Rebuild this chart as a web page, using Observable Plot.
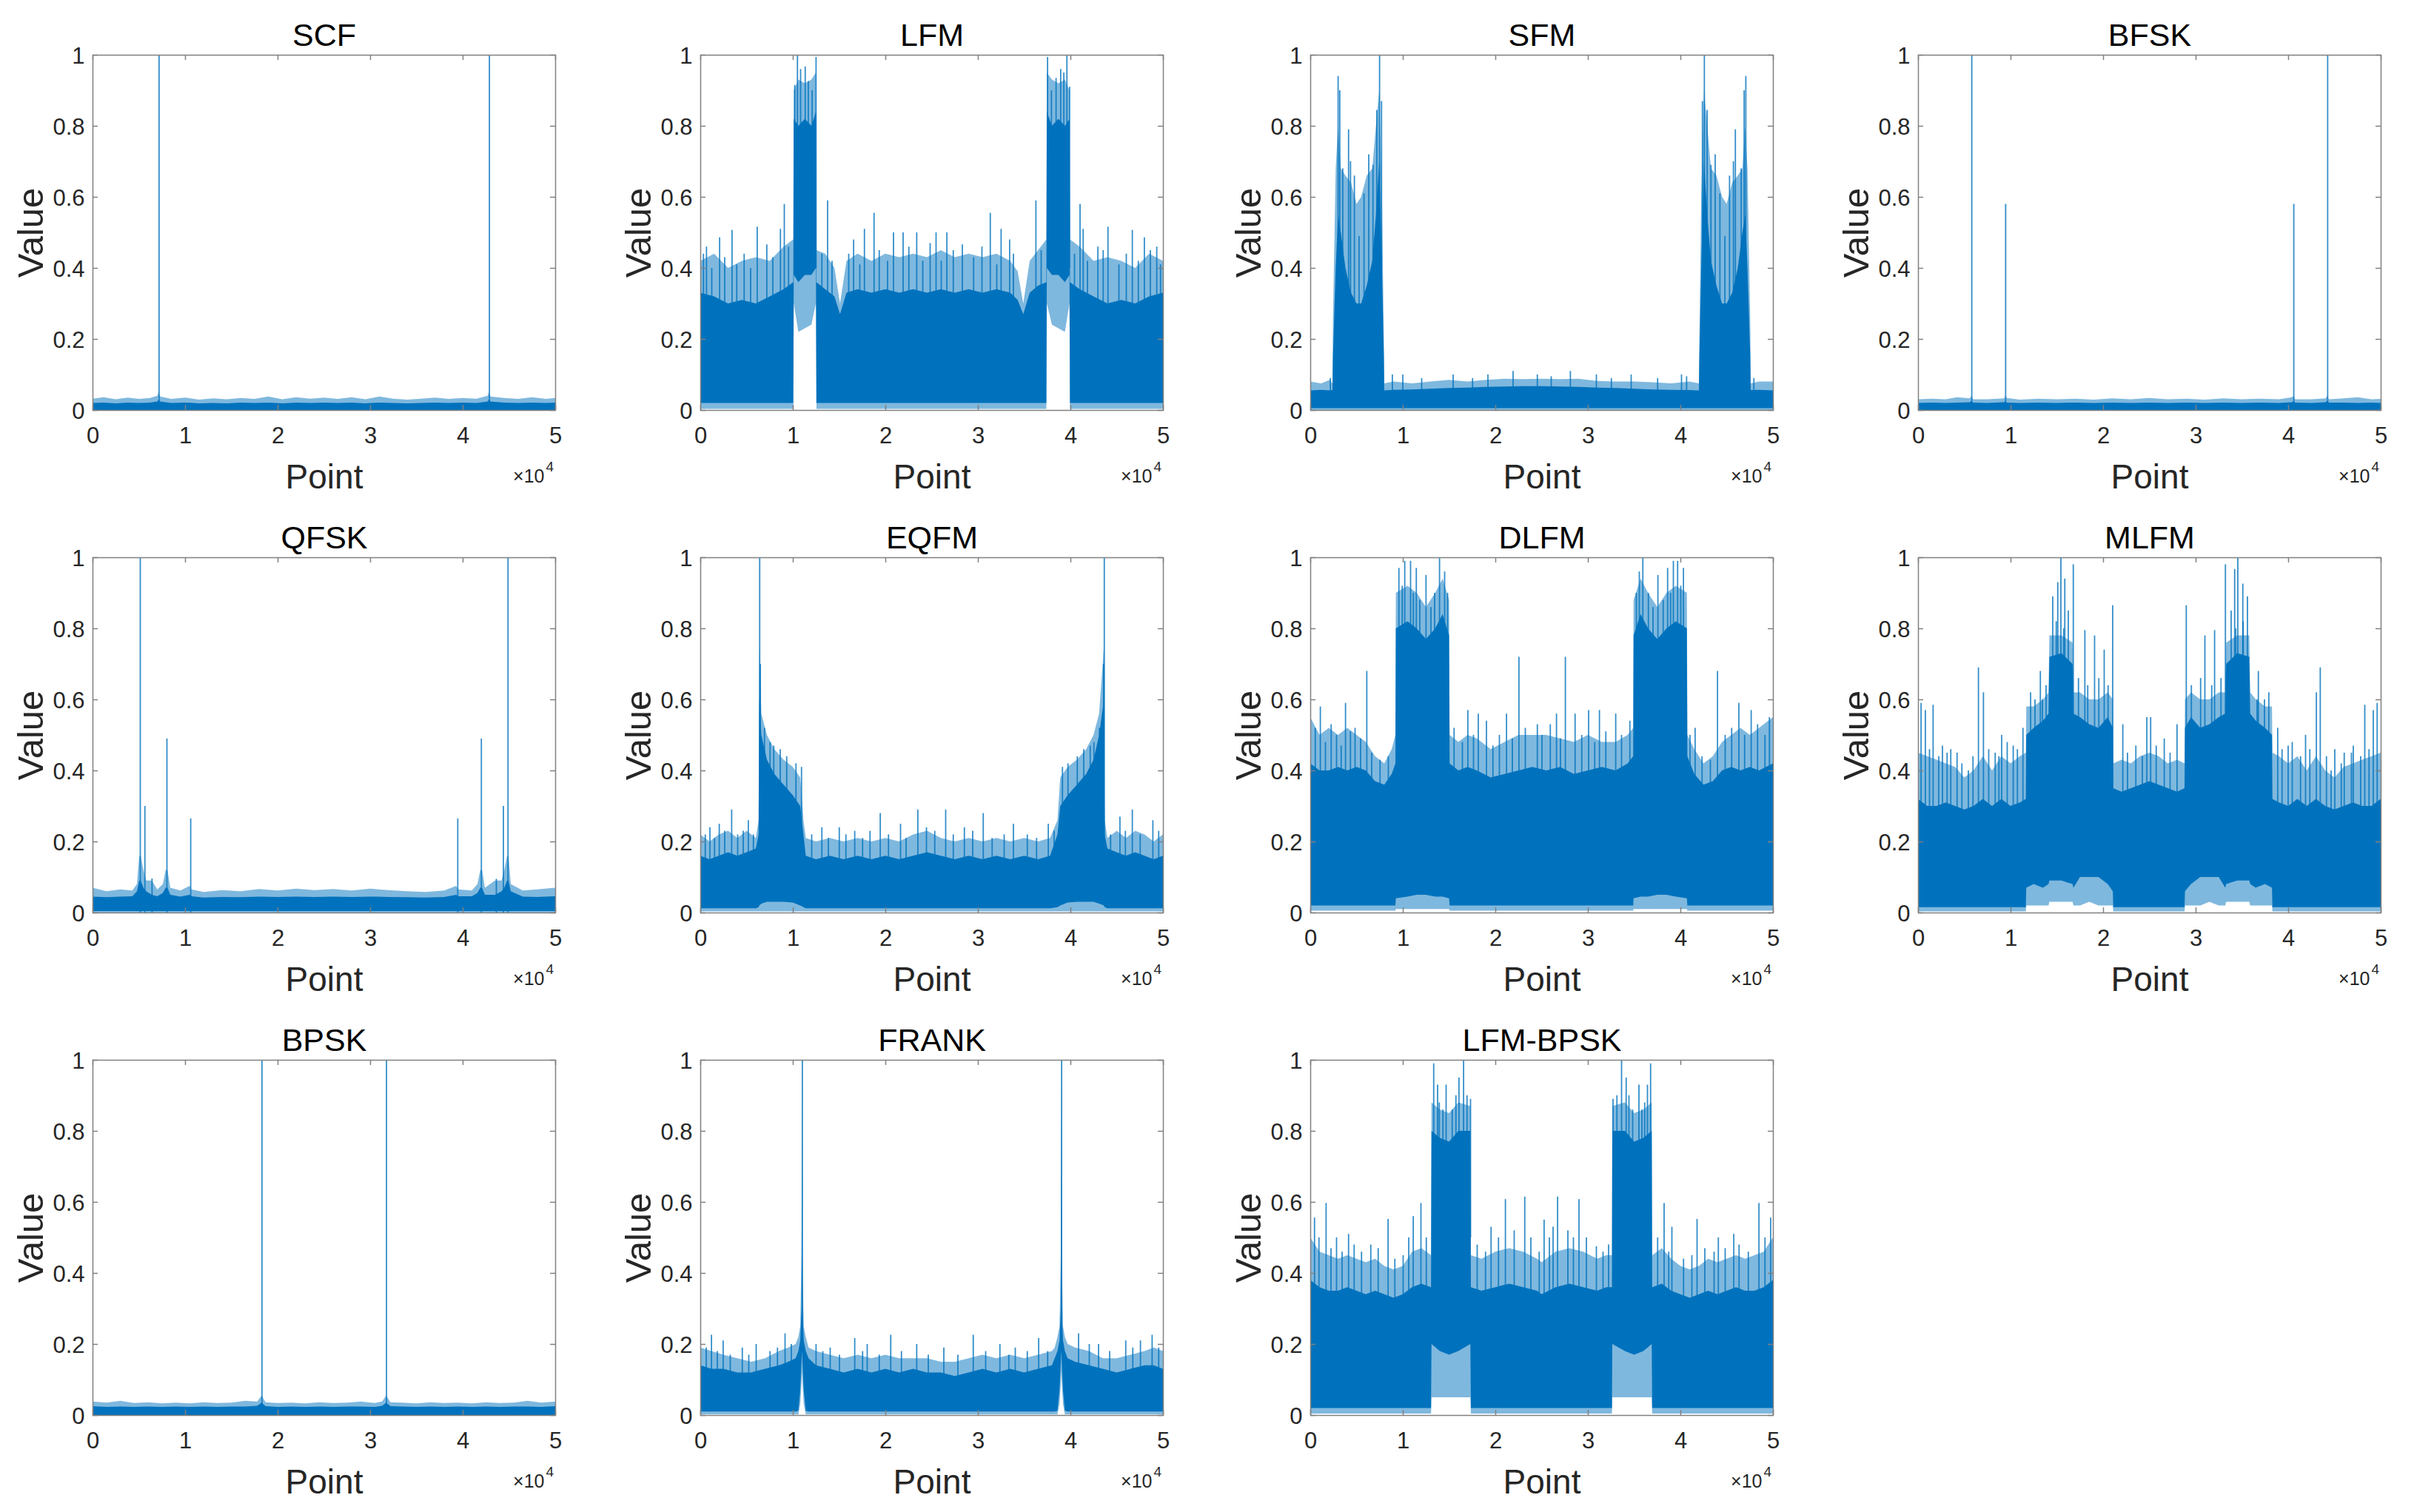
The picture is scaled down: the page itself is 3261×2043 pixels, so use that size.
<!DOCTYPE html>
<html><head><meta charset="utf-8">
<script src="https://cdn.jsdelivr.net/npm/d3@7"></script>
<script src="https://cdn.jsdelivr.net/npm/@observablehq/plot@0.6"></script>
<style>
html,body{margin:0;padding:0;background:#fff;}
#fig{position:relative;width:3261px;height:2043px;overflow:hidden;background:#fff;}
#fig svg{position:absolute;}
</style></head><body><div id="fig"></div>
<script>
// ---------- labels ----------
const panelNames = ["SCF","LFM","SFM","BFSK","QFSK","EQFM","DLFM","MLFM","BPSK","FRANK","LFM-BPSK"];
const xTickValues = [0,10000,20000,30000,40000,50000];
const xTickLabels = ["0","1","2","3","4","5"];
const yTickValues = [0,0.2,0.4,0.6,0.8,1];
const yTickLabels = ["0","0.2","0.4","0.6","0.8","1"];
const yAxisLabel = "Value";
const xAxisLabel = "Point";
const xExponentBase = "×10";
const xExponent = "4";

// ---------- data: band rows [point, lightBottom, solidBottom, solidTop, lightTop]; spikes [point, from, to] ----------
const SCF_band = [[0,0,0,0.02,0.032],[1200,0,0,0.021,0.036],[2500,0,0,0.019,0.03],[3800,0,0,0.021,0.035],[5000,0,0,0.02,0.031],[6200,0,0,0.021,0.034],[7000,0,0,0.024,0.04],[7150,0,0,0.03,0.05],[7300,0,0,0.024,0.038],[8500,0,0,0.02,0.031],[10000,0,0,0.021,0.035],[11500,0,0,0.019,0.029],[13000,0,0,0.02,0.033],[14500,0,0,0.019,0.03],[16000,0,0,0.021,0.034],[17500,0,0,0.02,0.031],[19000,0,0,0.021,0.038],[20500,0,0,0.019,0.03],[22000,0,0,0.021,0.036],[23500,0,0,0.02,0.032],[25000,0,0,0.021,0.035],[26500,0,0,0.02,0.031],[28000,0,0,0.021,0.036],[29500,0,0,0.019,0.03],[31000,0,0,0.021,0.038],[32500,0,0,0.02,0.032],[34000,0,0,0.019,0.029],[35500,0,0,0.02,0.032],[37000,0,0,0.021,0.035],[38500,0,0,0.02,0.031],[40000,0,0,0.021,0.034],[41500,0,0,0.02,0.032],[42700,0,0,0.024,0.04],[42850,0,0,0.03,0.05],[43000,0,0,0.024,0.038],[44500,0,0,0.021,0.034],[46000,0,0,0.02,0.031],[47500,0,0,0.021,0.036],[49000,0,0,0.02,0.031],[50000,0,0,0.021,0.034]];
const SCF_spikes = [[7150,0,1],[42850,0,1]];

const LFM_band = [[0,0.003,0.02,0.33,0.42],[1500,0.003,0.02,0.32,0.44],[3000,0.003,0.02,0.3,0.4],[4500,0.003,0.02,0.31,0.42],[6000,0.003,0.02,0.3,0.43],[7500,0.003,0.02,0.32,0.42],[9000,0.003,0.02,0.34,0.46],[10050,0.003,0.02,0.36,0.48],[10100,0.3,0.38,0.82,0.9],[10600,0.22,0.36,0.8,0.93],[11300,0.23,0.38,0.82,0.92],[12000,0.24,0.38,0.8,0.93],[12500,0.3,0.4,0.84,0.95],[12550,0.003,0.02,0.36,0.45],[13500,0.003,0.02,0.34,0.44],[14500,0.003,0.02,0.32,0.4],[15100,0.003,0.02,0.27,0.3],[15800,0.003,0.02,0.33,0.42],[17000,0.003,0.02,0.34,0.44],[18500,0.003,0.02,0.33,0.42],[20000,0.003,0.02,0.34,0.44],[21500,0.003,0.02,0.33,0.43],[23000,0.003,0.02,0.34,0.44],[24500,0.003,0.02,0.33,0.43],[26000,0.003,0.02,0.34,0.45],[27500,0.003,0.02,0.33,0.43],[29000,0.003,0.02,0.34,0.44],[30500,0.003,0.02,0.33,0.43],[32000,0.003,0.02,0.34,0.44],[33500,0.003,0.02,0.33,0.42],[34300,0.003,0.02,0.31,0.39],[34900,0.003,0.02,0.27,0.3],[35600,0.003,0.02,0.33,0.42],[36500,0.003,0.02,0.35,0.45],[37400,0.003,0.02,0.36,0.48],[37450,0.3,0.4,0.84,0.95],[38000,0.24,0.38,0.8,0.93],[38700,0.23,0.38,0.82,0.92],[39400,0.22,0.36,0.8,0.93],[39900,0.3,0.38,0.82,0.9],[39950,0.003,0.02,0.36,0.48],[41000,0.003,0.02,0.34,0.46],[42500,0.003,0.02,0.32,0.42],[44000,0.003,0.02,0.3,0.43],[45500,0.003,0.02,0.31,0.42],[47000,0.003,0.02,0.3,0.4],[48500,0.003,0.02,0.32,0.44],[50000,0.003,0.02,0.33,0.42]];
const LFM_spikes = [[300,0.3,0.44],[630,0.3,0.46],[1200,0.3,0.4],[2050,0.3,0.486],[2600,0.3,0.43],[3390,0.3,0.507],[3900,0.3,0.41],[4700,0.3,0.44],[5400,0.3,0.4],[6110,0.3,0.516],[7150,0.3,0.466],[7800,0.3,0.43],[8620,0.3,0.51],[9040,0.3,0.58],[9500,0.3,0.46],[10170,0.4,0.915],[10460,0.4,1],[10800,0.4,0.96],[11300,0.4,0.967],[11630,0.4,0.926],[12050,0.4,0.9],[12470,0.4,0.994],[13100,0.3,0.44],[13720,0.3,0.59],[14200,0.3,0.42],[16000,0.3,0.44],[16530,0.3,0.48],[17200,0.3,0.41],[17700,0.3,0.51],[18740,0.3,0.555],[19300,0.3,0.45],[20200,0.3,0.42],[20840,0.3,0.5],[21880,0.3,0.5],[22500,0.3,0.46],[23350,0.3,0.5],[24000,0.3,0.42],[24800,0.3,0.47],[25440,0.3,0.5],[26000,0.3,0.42],[26610,0.3,0.5],[27300,0.3,0.45],[28280,0.3,0.466],[29500,0.3,0.43],[30400,0.3,0.46],[31300,0.3,0.555],[32000,0.3,0.41],[32470,0.3,0.51],[33390,0.3,0.48],[33800,0.3,0.44],[36230,0.3,0.59],[36800,0.3,0.45],[37490,0.4,0.994],[37910,0.4,0.9],[38410,0.4,0.935],[38910,0.4,0.96],[39250,0.4,0.95],[39580,0.4,1],[39870,0.4,0.91],[40400,0.3,0.44],[41000,0.3,0.58],[41340,0.3,0.51],[41800,0.3,0.42],[42930,0.3,0.46],[43500,0.3,0.45],[44020,0.3,0.516],[45200,0.3,0.41],[46000,0.3,0.44],[46650,0.3,0.507],[47300,0.3,0.42],[47950,0.3,0.486],[48600,0.3,0.45],[49290,0.3,0.46],[49700,0.3,0.41]];

const SFM_band = [[0,0,0.005,0.055,0.08],[1200,0,0.005,0.057,0.075],[2100,0,0.005,0.055,0.085],[2400,0,0.005,0.056,0.075],[2450,0,0.005,0.15,0.25],[2750,0,0.005,0.4,0.68],[3000,0,0.005,0.55,0.8],[3300,0,0.005,0.5,0.68],[3800,0,0.005,0.4,0.66],[4400,0,0.005,0.33,0.64],[5000,0,0.005,0.3,0.58],[5500,0,0.005,0.3,0.6],[6100,0,0.005,0.35,0.66],[6700,0,0.005,0.42,0.68],[7100,0,0.005,0.55,0.8],[7450,0,0.005,0.7,0.9],[7750,0,0.005,0.4,0.6],[7950,0,0.005,0.15,0.2],[8000,0,0.005,0.055,0.075],[9000,0,0.005,0.057,0.08],[11000,0,0.005,0.058,0.075],[13000,0,0.005,0.06,0.08],[15000,0,0.005,0.062,0.085],[17000,0,0.005,0.063,0.08],[19000,0,0.005,0.065,0.085],[21000,0,0.005,0.066,0.088],[23000,0,0.005,0.067,0.087],[25000,0,0.005,0.067,0.088],[27000,0,0.005,0.066,0.087],[29000,0,0.005,0.065,0.088],[31000,0,0.005,0.063,0.082],[33000,0,0.005,0.062,0.08],[35000,0,0.005,0.06,0.08],[37000,0,0.005,0.058,0.078],[39000,0,0.005,0.057,0.075],[41000,0,0.005,0.056,0.08],[42000,0,0.005,0.055,0.075],[42050,0,0.005,0.15,0.2],[42250,0,0.005,0.4,0.6],[42550,0,0.005,0.7,0.9],[42900,0,0.005,0.55,0.8],[43300,0,0.005,0.42,0.68],[43900,0,0.005,0.35,0.66],[44500,0,0.005,0.3,0.6],[45000,0,0.005,0.3,0.58],[45600,0,0.005,0.33,0.64],[46200,0,0.005,0.4,0.66],[46700,0,0.005,0.5,0.68],[47000,0,0.005,0.55,0.8],[47250,0,0.005,0.4,0.68],[47550,0,0.005,0.15,0.25],[47600,0,0.005,0.056,0.075],[48500,0,0.005,0.057,0.08],[50000,0,0.005,0.055,0.08]];
const SFM_spikes = [[2130,0.05,0.09],[2970,0.1,0.94],[3150,0.1,0.9],[3470,0.1,0.68],[4100,0.1,0.79],[4310,0.1,0.7],[4730,0.1,0.66],[5230,0.1,0.49],[5770,0.1,0.61],[6280,0.1,0.72],[6740,0.1,0.69],[7150,0.1,0.845],[7450,0.1,1],[7660,0.1,0.87],[8830,0.05,0.1],[9960,0.05,0.1],[12000,0.05,0.09],[15400,0.05,0.1],[17500,0.05,0.09],[19160,0.05,0.1],[21880,0.05,0.11],[24500,0.05,0.1],[26000,0.05,0.095],[28070,0.05,0.11],[30880,0.05,0.1],[32500,0.05,0.09],[34640,0.05,0.1],[37500,0.05,0.09],[40080,0.05,0.1],[40630,0.05,0.095],[42340,0.1,0.87],[42550,0.1,1],[42850,0.1,0.845],[43260,0.1,0.69],[43720,0.1,0.72],[44230,0.1,0.61],[44770,0.1,0.49],[45270,0.1,0.66],[45690,0.1,0.7],[45900,0.1,0.79],[46530,0.1,0.68],[46850,0.1,0.9],[47030,0.1,0.94],[47900,0.05,0.09]];

const BFSK_band = [[0,0,0,0.02,0.03],[1500,0,0,0.021,0.032],[3000,0,0,0.02,0.03],[4200,0,0,0.021,0.036],[5600,0,0,0.022,0.033],[5770,0,0,0.026,0.04],[5950,0,0,0.021,0.03],[7500,0,0,0.02,0.03],[9300,0,0,0.022,0.033],[9430,0,0,0.025,0.04],[9600,0,0,0.021,0.034],[11000,0,0,0.02,0.029],[13000,0,0,0.021,0.032],[15000,0,0,0.02,0.03],[17000,0,0,0.021,0.032],[19000,0,0,0.02,0.029],[21000,0,0,0.021,0.033],[23000,0,0,0.02,0.03],[25000,0,0,0.021,0.034],[27000,0,0,0.02,0.03],[29000,0,0,0.021,0.032],[31000,0,0,0.02,0.029],[33000,0,0,0.021,0.033],[35000,0,0,0.02,0.03],[37000,0,0,0.021,0.032],[39000,0,0,0.02,0.03],[40400,0,0,0.022,0.036],[40570,0,0,0.025,0.04],[40750,0,0,0.021,0.03],[42500,0,0,0.02,0.03],[44050,0,0,0.022,0.033],[44230,0,0,0.026,0.04],[44400,0,0,0.021,0.03],[46000,0,0,0.021,0.033],[47500,0,0,0.02,0.036],[49000,0,0,0.021,0.03],[50000,0,0,0.02,0.031]];
const BFSK_spikes = [[5770,0,1],[9430,0,0.58],[40570,0,0.58],[44230,0,1]];

const QFSK_band = [[0,0,0.004,0.045,0.07],[1500,0,0.004,0.043,0.06],[3000,0,0.004,0.045,0.065],[4300,0,0.004,0.046,0.062],[4800,0,0.004,0.06,0.08],[5050,0,0.004,0.09,0.16],[5200,0,0.004,0.09,0.16],[5500,0,0.004,0.07,0.12],[5800,0,0.004,0.06,0.09],[6400,0,0.004,0.05,0.09],[7000,0,0.004,0.046,0.065],[7600,0,0.004,0.055,0.08],[7900,0,0.004,0.07,0.12],[8100,0,0.004,0.07,0.12],[8400,0,0.004,0.05,0.07],[9500,0,0.004,0.045,0.062],[10500,0,0.004,0.05,0.075],[10700,0,0.004,0.046,0.065],[12000,0,0.004,0.042,0.058],[14000,0,0.004,0.044,0.063],[16000,0,0.004,0.043,0.06],[18000,0,0.004,0.045,0.066],[20000,0,0.004,0.044,0.062],[22000,0,0.004,0.045,0.067],[24000,0,0.004,0.044,0.063],[26000,0,0.004,0.045,0.066],[28000,0,0.004,0.044,0.062],[30000,0,0.004,0.045,0.067],[32000,0,0.004,0.044,0.063],[34000,0,0.004,0.043,0.06],[36000,0,0.004,0.042,0.058],[38000,0,0.004,0.044,0.062],[39300,0,0.004,0.05,0.075],[39500,0,0.004,0.046,0.065],[41000,0,0.004,0.046,0.062],[41600,0,0.004,0.055,0.08],[41900,0,0.004,0.07,0.12],[42100,0,0.004,0.07,0.12],[42400,0,0.004,0.05,0.07],[43500,0,0.004,0.05,0.09],[44200,0,0.004,0.06,0.09],[44500,0,0.004,0.07,0.12],[44800,0,0.004,0.09,0.16],[44950,0,0.004,0.09,0.16],[45200,0,0.004,0.06,0.08],[46500,0,0.004,0.045,0.062],[48000,0,0.004,0.044,0.065],[50000,0,0.004,0.046,0.07]];
const QFSK_spikes = [[5120,0,1],[5620,0,0.3],[6390,0,0.096],[8000,0,0.49],[10570,0,0.265],[39430,0,0.265],[41980,0,0.49],[43600,0,0.095],[44360,0,0.3],[44860,0,1]];

const EQFM_band = [[0,0.003,0.012,0.16,0.22],[1000,0.003,0.012,0.15,0.2],[2000,0.003,0.012,0.16,0.22],[3000,0.003,0.012,0.17,0.23],[4000,0.003,0.012,0.16,0.21],[5000,0.003,0.012,0.17,0.23],[6000,0.003,0.012,0.18,0.21],[6300,0.003,0.015,0.22,0.26],[6380,0.003,0.02,0.6,0.75],[6600,0.003,0.025,0.5,0.56],[7200,0.003,0.03,0.43,0.5],[8000,0.003,0.03,0.39,0.46],[9000,0.003,0.03,0.36,0.43],[10000,0.003,0.028,0.33,0.41],[10800,0.003,0.02,0.3,0.38],[11150,0.003,0.015,0.22,0.26],[11400,0.003,0.012,0.16,0.21],[12500,0.003,0.012,0.15,0.2],[14000,0.003,0.012,0.16,0.21],[15500,0.003,0.012,0.15,0.2],[17000,0.003,0.012,0.16,0.21],[18500,0.003,0.012,0.15,0.2],[20000,0.003,0.012,0.16,0.21],[21500,0.003,0.012,0.15,0.2],[23000,0.003,0.012,0.16,0.22],[24500,0.003,0.012,0.17,0.23],[26000,0.003,0.012,0.16,0.21],[27500,0.003,0.012,0.15,0.2],[29000,0.003,0.012,0.16,0.21],[30500,0.003,0.012,0.15,0.2],[32000,0.003,0.012,0.16,0.21],[33500,0.003,0.012,0.15,0.2],[35000,0.003,0.012,0.16,0.21],[36500,0.003,0.012,0.15,0.2],[37800,0.003,0.012,0.16,0.21],[38600,0.003,0.015,0.22,0.26],[38900,0.003,0.02,0.3,0.38],[39700,0.003,0.028,0.33,0.41],[40700,0.003,0.03,0.36,0.43],[41700,0.003,0.03,0.39,0.46],[42500,0.003,0.03,0.43,0.5],[43100,0.003,0.025,0.5,0.56],[43620,0.003,0.02,0.6,0.75],[43700,0.003,0.015,0.22,0.26],[44000,0.003,0.012,0.18,0.21],[45000,0.003,0.012,0.17,0.23],[46000,0.003,0.012,0.16,0.21],[47000,0.003,0.012,0.17,0.23],[48000,0.003,0.012,0.16,0.22],[49000,0.003,0.012,0.15,0.2],[50000,0.003,0.012,0.16,0.22]];
const EQFM_spikes = [[500,0.1,0.22],[1000,0.1,0.24],[1500,0.1,0.21],[2010,0.1,0.25],[2600,0.1,0.23],[3350,0.1,0.29],[4000,0.1,0.22],[4600,0.1,0.23],[5150,0.1,0.26],[5700,0.1,0.22],[6380,0.1,1],[6450,0.1,0.7],[6900,0.1,0.52],[7500,0.1,0.48],[7900,0.1,0.47],[8600,0.1,0.46],[9300,0.1,0.44],[10300,0.1,0.42],[10900,0.1,0.41],[12000,0.1,0.22],[13100,0.1,0.24],[13800,0.1,0.21],[14980,0.1,0.24],[15700,0.1,0.22],[16650,0.1,0.23],[17500,0.1,0.21],[18300,0.1,0.23],[19410,0.1,0.28],[20300,0.1,0.22],[21600,0.1,0.25],[22200,0.1,0.21],[23470,0.1,0.29],[24400,0.1,0.24],[25300,0.1,0.23],[26480,0.1,0.29],[27300,0.1,0.22],[28500,0.1,0.24],[29400,0.1,0.23],[30540,0.1,0.28],[31500,0.1,0.21],[32800,0.1,0.22],[33800,0.1,0.25],[35300,0.1,0.22],[36300,0.1,0.21],[37570,0.1,0.25],[38200,0.1,0.23],[39100,0.1,0.41],[39700,0.1,0.42],[40700,0.1,0.44],[41400,0.1,0.46],[42100,0.1,0.47],[42500,0.1,0.48],[43100,0.1,0.52],[43550,0.1,0.7],[43620,0.1,1],[44300,0.1,0.22],[45310,0.1,0.27],[45900,0.1,0.23],[46650,0.1,0.29],[47500,0.1,0.22],[48870,0.1,0.26],[49500,0.1,0.23]];

const DLFM_band = [[0,0.005,0.02,0.42,0.55],[1000,0.005,0.02,0.4,0.5],[2000,0.005,0.02,0.4,0.52],[3000,0.005,0.02,0.41,0.5],[4000,0.005,0.02,0.4,0.52],[5000,0.005,0.02,0.41,0.5],[6000,0.005,0.02,0.4,0.48],[7000,0.005,0.02,0.37,0.44],[8000,0.005,0.02,0.36,0.42],[8800,0.005,0.02,0.39,0.46],[9200,0.005,0.02,0.42,0.5],[9250,0.01,0.04,0.8,0.9],[10500,0.01,0.045,0.82,0.92],[11500,0.01,0.05,0.8,0.9],[12500,0.01,0.05,0.77,0.86],[13500,0.01,0.045,0.8,0.9],[14300,0.01,0.045,0.84,0.94],[15000,0.01,0.04,0.78,0.88],[15060,0.005,0.02,0.42,0.5],[16000,0.005,0.02,0.4,0.48],[17000,0.005,0.02,0.41,0.5],[18000,0.005,0.02,0.4,0.49],[19500,0.005,0.02,0.38,0.46],[21000,0.005,0.02,0.39,0.48],[22500,0.005,0.02,0.4,0.5],[24000,0.005,0.02,0.41,0.5],[25500,0.005,0.02,0.4,0.5],[27000,0.005,0.02,0.41,0.49],[28500,0.005,0.02,0.39,0.48],[30000,0.005,0.02,0.4,0.5],[31500,0.005,0.02,0.41,0.48],[33000,0.005,0.02,0.4,0.48],[34300,0.005,0.02,0.42,0.5],[34900,0.005,0.02,0.44,0.52],[34940,0.01,0.04,0.78,0.88],[35700,0.01,0.045,0.84,0.94],[36500,0.01,0.045,0.8,0.9],[37500,0.01,0.05,0.77,0.86],[38500,0.01,0.05,0.8,0.9],[39500,0.01,0.045,0.82,0.92],[40700,0.01,0.04,0.8,0.9],[40750,0.005,0.02,0.44,0.5],[41500,0.005,0.02,0.39,0.46],[42500,0.005,0.02,0.36,0.42],[43500,0.005,0.02,0.37,0.44],[44500,0.005,0.02,0.4,0.48],[45500,0.005,0.02,0.41,0.5],[46500,0.005,0.02,0.4,0.52],[47500,0.005,0.02,0.41,0.5],[48500,0.005,0.02,0.4,0.52],[50000,0.005,0.02,0.42,0.55]];
const DLFM_spikes = [[500,0.3,0.52],[1050,0.3,0.58],[1600,0.3,0.48],[2220,0.3,0.53],[2800,0.3,0.5],[3300,0.3,0.47],[3770,0.3,0.59],[4300,0.3,0.51],[4800,0.3,0.52],[5400,0.3,0.49],[6070,0.3,0.68],[6600,0.3,0.45],[7500,0.3,0.43],[8400,0.3,0.44],[9540,0.5,0.97],[9900,0.5,0.92],[10170,0.5,0.99],[10800,0.5,0.99],[11100,0.5,0.9],[11420,0.5,0.97],[11800,0.5,0.88],[12470,0.5,0.95],[13000,0.5,0.86],[13400,0.5,0.9],[13930,0.5,1],[14480,0.5,0.96],[14800,0.5,0.9],[15500,0.3,0.52],[16400,0.3,0.48],[16990,0.3,0.57],[17600,0.3,0.5],[18120,0.3,0.56],[19000,0.3,0.54],[19700,0.3,0.47],[20400,0.3,0.5],[21170,0.3,0.56],[21800,0.3,0.49],[22510,0.3,0.72],[23200,0.3,0.52],[24500,0.3,0.53],[25000,0.3,0.5],[25900,0.3,0.53],[26570,0.3,0.56],[27000,0.3,0.49],[27530,0.3,0.72],[28580,0.3,0.56],[29300,0.3,0.5],[30040,0.3,0.57],[30700,0.3,0.48],[31210,0.3,0.57],[31900,0.3,0.51],[32970,0.3,0.56],[33600,0.3,0.5],[34500,0.3,0.54],[35200,0.5,0.9],[35520,0.5,0.96],[35900,0.5,1],[36500,0.5,0.9],[37000,0.5,0.86],[37530,0.5,0.95],[38100,0.5,0.88],[38580,0.5,0.97],[38900,0.5,0.9],[39200,0.5,0.99],[39660,0.5,0.99],[40000,0.5,0.92],[40290,0.5,0.97],[41000,0.3,0.5],[41550,0.3,0.52],[42300,0.3,0.44],[43200,0.3,0.43],[43970,0.3,0.68],[44800,0.3,0.5],[45500,0.3,0.52],[46280,0.3,0.59],[46900,0.3,0.5],[47610,0.3,0.57],[48300,0.3,0.53],[49100,0.3,0.5],[49580,0.3,0.55]];

const MLFM_band = [[0,0.003,0.015,0.32,0.45],[1000,0.003,0.015,0.3,0.44],[2000,0.003,0.015,0.3,0.43],[3000,0.003,0.015,0.31,0.42],[4000,0.003,0.015,0.3,0.41],[5000,0.003,0.015,0.29,0.38],[6000,0.003,0.015,0.3,0.4],[7000,0.003,0.015,0.32,0.44],[8000,0.003,0.015,0.3,0.4],[9000,0.003,0.015,0.32,0.44],[10000,0.003,0.015,0.3,0.42],[11000,0.003,0.015,0.31,0.44],[11650,0.003,0.015,0.32,0.45],[11700,0.02,0.07,0.5,0.58],[12500,0.02,0.08,0.52,0.58],[13500,0.02,0.07,0.54,0.6],[14100,0.02,0.08,0.56,0.62],[14200,0.03,0.09,0.72,0.78],[15500,0.03,0.09,0.73,0.78],[16700,0.03,0.08,0.7,0.76],[16800,0.02,0.07,0.56,0.62],[17500,0.02,0.1,0.55,0.62],[18500,0.03,0.1,0.53,0.6],[19500,0.02,0.1,0.52,0.6],[20500,0.02,0.08,0.55,0.62],[21050,0.02,0.06,0.52,0.6],[21100,0.003,0.015,0.35,0.42],[22000,0.003,0.015,0.34,0.43],[23000,0.003,0.015,0.35,0.42],[24000,0.003,0.015,0.36,0.44],[25000,0.003,0.015,0.37,0.45],[26000,0.003,0.015,0.36,0.44],[27000,0.003,0.015,0.35,0.42],[28000,0.003,0.015,0.34,0.43],[28800,0.003,0.015,0.35,0.42],[28850,0.02,0.06,0.52,0.6],[29500,0.02,0.08,0.55,0.62],[30500,0.02,0.1,0.52,0.6],[31500,0.03,0.1,0.53,0.6],[32500,0.02,0.1,0.55,0.62],[33200,0.02,0.07,0.56,0.62],[33300,0.03,0.08,0.7,0.76],[34500,0.03,0.09,0.73,0.78],[35800,0.03,0.09,0.72,0.78],[35900,0.02,0.08,0.56,0.62],[36500,0.02,0.07,0.54,0.6],[37500,0.02,0.08,0.52,0.58],[38250,0.02,0.07,0.5,0.58],[38300,0.003,0.015,0.32,0.45],[39000,0.003,0.015,0.31,0.44],[40000,0.003,0.015,0.3,0.42],[41000,0.003,0.015,0.32,0.44],[42000,0.003,0.015,0.3,0.4],[43000,0.003,0.015,0.32,0.44],[44000,0.003,0.015,0.3,0.4],[45000,0.003,0.015,0.29,0.38],[46000,0.003,0.015,0.3,0.41],[47000,0.003,0.015,0.31,0.42],[48000,0.003,0.015,0.3,0.43],[49000,0.003,0.015,0.3,0.44],[50000,0.003,0.015,0.32,0.45]];
const MLFM_spikes = [[290,0.25,0.59],[750,0.25,0.57],[1200,0.25,0.46],[1590,0.25,0.585],[2200,0.25,0.44],[2600,0.25,0.47],[3100,0.25,0.45],[3500,0.25,0.46],[4180,0.25,0.45],[4700,0.25,0.42],[5400,0.25,0.4],[5900,0.25,0.44],[6490,0.25,0.69],[7030,0.25,0.62],[7600,0.25,0.46],[8300,0.25,0.45],[8700,0.25,0.44],[9000,0.25,0.5],[9600,0.25,0.48],[10250,0.25,0.47],[10700,0.25,0.46],[11300,0.25,0.52],[12130,0.3,0.62],[12600,0.3,0.6],[13180,0.3,0.68],[13400,0.3,0.6],[13800,0.3,0.64],[14520,0.4,0.89],[14900,0.4,0.82],[15060,0.4,0.93],[15400,0.4,1],[15700,0.4,0.8],[15820,0.4,0.94],[16200,0.4,0.85],[16740,0.4,0.98],[17300,0.3,0.66],[17990,0.3,0.795],[18300,0.3,0.64],[19040,0.3,0.78],[19500,0.3,0.66],[20080,0.3,0.74],[20500,0.3,0.64],[21000,0.3,0.865],[22090,0.25,0.53],[22600,0.25,0.45],[23500,0.25,0.47],[24200,0.25,0.44],[24690,0.25,0.55],[25100,0.25,0.55],[25700,0.25,0.47],[26570,0.25,0.49],[27200,0.25,0.45],[27950,0.25,0.53],[28950,0.3,0.865],[29500,0.3,0.64],[30500,0.3,0.66],[30960,0.3,0.78],[31700,0.3,0.64],[32010,0.3,0.795],[32700,0.3,0.66],[33180,0.4,0.98],[33800,0.4,0.85],[34180,0.4,0.967],[34300,0.4,0.8],[34520,0.4,1],[35060,0.4,0.926],[35100,0.4,0.82],[35560,0.4,0.89],[36600,0.3,0.6],[36740,0.3,0.68],[37400,0.3,0.6],[37870,0.3,0.62],[38830,0.25,0.52],[39300,0.25,0.46],[39960,0.25,0.47],[40400,0.25,0.48],[41300,0.25,0.44],[41840,0.25,0.5],[42300,0.25,0.46],[43010,0.25,0.62],[43430,0.25,0.69],[44100,0.25,0.44],[44600,0.25,0.4],[45000,0.25,0.46],[45700,0.25,0.42],[46020,0.25,0.45],[46800,0.25,0.45],[47000,0.25,0.47],[47800,0.25,0.44],[48240,0.25,0.585],[48700,0.25,0.46],[49160,0.25,0.57],[49580,0.25,0.59]];

const BPSK_band = [[0,0,0,0.025,0.038],[1500,0,0,0.023,0.035],[3000,0,0,0.024,0.04],[4500,0,0,0.023,0.034],[6000,0,0,0.024,0.036],[7500,0,0,0.023,0.033],[9000,0,0,0.024,0.035],[10500,0,0,0.023,0.033],[12000,0,0,0.024,0.036],[13500,0,0,0.023,0.034],[15000,0,0,0.024,0.035],[16500,0,0,0.024,0.04],[17800,0,0,0.026,0.038],[18270,0,0,0.035,0.055],[18700,0,0,0.025,0.036],[20000,0,0,0.023,0.034],[21500,0,0,0.024,0.035],[23000,0,0,0.023,0.033],[24500,0,0,0.024,0.036],[26000,0,0,0.023,0.034],[27500,0,0,0.024,0.035],[29000,0,0,0.024,0.038],[30500,0,0,0.023,0.034],[31300,0,0,0.026,0.038],[31730,0,0,0.035,0.055],[32200,0,0,0.025,0.036],[33500,0,0,0.024,0.035],[35000,0,0,0.023,0.033],[36500,0,0,0.024,0.036],[38000,0,0,0.023,0.034],[39500,0,0,0.024,0.035],[41000,0,0,0.023,0.033],[42500,0,0,0.024,0.036],[44000,0,0,0.023,0.034],[45500,0,0,0.024,0.035],[47000,0,0,0.024,0.04],[48500,0,0,0.023,0.035],[50000,0,0,0.025,0.038]];
const BPSK_spikes = [[18270,0,1],[31730,0,1]];

const FRANK_band = [[0,0.002,0.01,0.14,0.19],[1200,0.002,0.01,0.13,0.18],[2500,0.002,0.01,0.13,0.17],[4000,0.002,0.01,0.12,0.16],[5500,0.002,0.01,0.12,0.15],[7000,0.002,0.01,0.13,0.16],[8500,0.002,0.01,0.14,0.18],[9500,0.002,0.01,0.15,0.19],[10300,0.002,0.01,0.16,0.2],[10600,0.002,0.012,0.18,0.22],[10800,0.03,0.07,0.21,0.25],[10940,0.09,0.15,0.3,0.45],[10990,0.12,0.18,0.85,1],[11040,0.09,0.15,0.3,0.45],[11180,0.03,0.07,0.21,0.25],[11400,0.002,0.012,0.18,0.22],[11700,0.002,0.01,0.16,0.19],[12500,0.002,0.01,0.14,0.18],[14000,0.002,0.01,0.13,0.17],[15500,0.002,0.01,0.12,0.16],[17000,0.002,0.01,0.13,0.17],[18500,0.002,0.01,0.12,0.16],[20000,0.002,0.01,0.13,0.17],[21500,0.002,0.01,0.12,0.16],[23000,0.002,0.01,0.13,0.16],[24500,0.002,0.01,0.12,0.16],[26000,0.002,0.01,0.12,0.15],[27500,0.002,0.01,0.11,0.15],[29000,0.002,0.01,0.12,0.16],[30500,0.002,0.01,0.13,0.17],[32000,0.002,0.01,0.12,0.16],[33500,0.002,0.01,0.13,0.17],[35000,0.002,0.01,0.12,0.16],[36500,0.002,0.01,0.13,0.17],[38000,0.002,0.01,0.14,0.18],[38300,0.002,0.01,0.16,0.19],[38600,0.002,0.012,0.18,0.22],[38820,0.03,0.07,0.21,0.25],[38960,0.09,0.15,0.3,0.45],[39010,0.12,0.18,0.85,1],[39060,0.09,0.15,0.3,0.45],[39200,0.03,0.07,0.21,0.25],[39400,0.002,0.012,0.18,0.22],[39700,0.002,0.01,0.16,0.2],[40500,0.002,0.01,0.15,0.19],[42000,0.002,0.01,0.14,0.18],[43500,0.002,0.01,0.13,0.16],[45000,0.002,0.01,0.12,0.16],[46500,0.002,0.01,0.13,0.17],[48000,0.002,0.01,0.14,0.18],[49000,0.002,0.01,0.14,0.19],[50000,0.002,0.01,0.13,0.18]];
const FRANK_spikes = [[600,0.1,0.19],[1170,0.1,0.226],[1800,0.1,0.18],[2430,0.1,0.21],[3200,0.1,0.17],[4500,0.1,0.19],[5200,0.1,0.17],[6000,0.1,0.2],[7500,0.1,0.18],[8300,0.1,0.19],[9120,0.1,0.23],[9800,0.1,0.2],[10990,0.2,1],[12470,0.1,0.2],[13200,0.1,0.18],[14000,0.1,0.19],[15000,0.1,0.17],[16650,0.1,0.217],[17500,0.1,0.18],[18000,0.1,0.2],[19300,0.1,0.17],[20540,0.1,0.226],[21700,0.1,0.18],[23350,0.1,0.2],[24600,0.1,0.17],[26280,0.1,0.19],[27800,0.1,0.17],[29460,0.1,0.226],[30800,0.1,0.18],[32340,0.1,0.2],[33300,0.1,0.17],[34000,0.1,0.19],[35300,0.1,0.18],[36530,0.1,0.217],[37500,0.1,0.18],[39010,0.2,1],[40840,0.1,0.23],[42000,0.1,0.2],[43000,0.1,0.2],[44200,0.1,0.18],[45940,0.1,0.21],[46700,0.1,0.19],[47530,0.1,0.21],[48790,0.1,0.226],[49500,0.1,0.19]];

const LFMBPSK_band = [[0,0.004,0.02,0.38,0.5],[1000,0.004,0.02,0.36,0.46],[2000,0.004,0.02,0.35,0.45],[3000,0.004,0.02,0.35,0.44],[4000,0.004,0.02,0.36,0.45],[5000,0.004,0.02,0.35,0.44],[6000,0.004,0.02,0.34,0.43],[7000,0.004,0.02,0.35,0.44],[8000,0.004,0.02,0.34,0.42],[9000,0.004,0.02,0.33,0.41],[10000,0.004,0.02,0.34,0.42],[11000,0.004,0.02,0.36,0.46],[12000,0.004,0.02,0.37,0.47],[13050,0.004,0.02,0.36,0.45],[13100,0.05,0.2,0.8,0.88],[14000,0.05,0.18,0.78,0.86],[15000,0.05,0.17,0.77,0.85],[16000,0.05,0.18,0.8,0.88],[17300,0.05,0.2,0.8,0.87],[17360,0.004,0.02,0.36,0.45],[18500,0.004,0.02,0.35,0.44],[20000,0.004,0.02,0.36,0.46],[21500,0.004,0.02,0.37,0.47],[23000,0.004,0.02,0.36,0.46],[24500,0.004,0.02,0.35,0.44],[25000,0.004,0.02,0.34,0.43],[26500,0.004,0.02,0.36,0.46],[28000,0.004,0.02,0.37,0.47],[29500,0.004,0.02,0.36,0.46],[31000,0.004,0.02,0.35,0.44],[32000,0.004,0.02,0.36,0.45],[32600,0.004,0.02,0.36,0.45],[32640,0.05,0.2,0.8,0.87],[34000,0.05,0.18,0.8,0.88],[35000,0.05,0.17,0.77,0.85],[36000,0.05,0.18,0.78,0.86],[36900,0.05,0.2,0.8,0.88],[36950,0.004,0.02,0.36,0.45],[38000,0.004,0.02,0.37,0.47],[39000,0.004,0.02,0.35,0.44],[40000,0.004,0.02,0.34,0.42],[41000,0.004,0.02,0.33,0.41],[42000,0.004,0.02,0.34,0.42],[43000,0.004,0.02,0.35,0.44],[44000,0.004,0.02,0.34,0.43],[45000,0.004,0.02,0.35,0.44],[46000,0.004,0.02,0.36,0.45],[47000,0.004,0.02,0.35,0.44],[48000,0.004,0.02,0.35,0.45],[49000,0.004,0.02,0.36,0.46],[50000,0.004,0.02,0.38,0.5]];
const LFMBPSK_spikes = [[420,0.3,0.556],[900,0.3,0.5],[1670,0.3,0.597],[2200,0.3,0.47],[2800,0.3,0.5],[3400,0.3,0.46],[4100,0.3,0.51],[4700,0.3,0.48],[5500,0.3,0.46],[6500,0.3,0.48],[7300,0.3,0.47],[8370,0.3,0.552],[9100,0.3,0.44],[10000,0.3,0.45],[10600,0.3,0.5],[11090,0.3,0.56],[11920,0.3,0.597],[12500,0.3,0.5],[13300,0.5,0.99],[13720,0.5,0.93],[13900,0.5,0.88],[14300,0.5,0.86],[14640,0.5,0.93],[15300,0.5,0.86],[15700,0.5,0.9],[16030,0.5,0.95],[16530,0.5,1],[16900,0.5,0.9],[17280,0.5,0.89],[18000,0.3,0.48],[18900,0.3,0.46],[19500,0.3,0.53],[20300,0.3,0.5],[21050,0.3,0.608],[22000,0.3,0.52],[23140,0.3,0.615],[23800,0.3,0.5],[24700,0.3,0.46],[25230,0.3,0.55],[25800,0.3,0.5],[26200,0.3,0.53],[26690,0.3,0.615],[27800,0.3,0.52],[28400,0.3,0.5],[29000,0.3,0.608],[29800,0.3,0.5],[30880,0.3,0.475],[31600,0.3,0.46],[32200,0.3,0.48],[32680,0.5,0.89],[33100,0.5,0.9],[33600,0.5,1],[34100,0.5,0.95],[34400,0.5,0.9],[34800,0.5,0.86],[35480,0.5,0.93],[35800,0.5,0.86],[36100,0.5,0.88],[36400,0.5,0.93],[36740,0.5,0.99],[37500,0.3,0.5],[38200,0.3,0.597],[38700,0.3,0.46],[39040,0.3,0.53],[40300,0.3,0.44],[41200,0.3,0.45],[41760,0.3,0.552],[42600,0.3,0.47],[43600,0.3,0.46],[44060,0.3,0.5],[44800,0.3,0.47],[45730,0.3,0.51],[46300,0.3,0.48],[47300,0.3,0.46],[48450,0.3,0.597],[49100,0.3,0.5],[49710,0.3,0.556]];

const panelBands = [SCF_band, LFM_band, SFM_band, BFSK_band, QFSK_band, EQFM_band, DLFM_band, MLFM_band, BPSK_band, FRANK_band, LFMBPSK_band];
const panelSpikes = [SCF_spikes, LFM_spikes, SFM_spikes, BFSK_spikes, QFSK_spikes, EQFM_spikes, DLFM_spikes, MLFM_spikes, BPSK_spikes, FRANK_spikes, LFMBPSK_spikes];

// ---------- layout / style ----------
const BLUE = "#0072BD";
const AXIS = "#808080";
const TEXT = "#262626";
const FONT = "'Liberation Sans', Arial, Helvetica, sans-serif";
const W = 625, H = 480, ML = 125, MT = 74, MR = 16, MB = 122, TICK = 7;
const colLeft = [125, 946, 1770, 2591];
const rowTop = [74, 753, 1432];

const fig = document.getElementById("fig");
const fmtX = d => xTickLabels[xTickValues.indexOf(d)];
const fmtY = d => yTickLabels[yTickValues.indexOf(d)];

panelNames.forEach((name, i) => {
  const band = panelBands[i], spikes = panelSpikes[i];
  const col = i % 4, row = Math.floor(i / 4);
  const chart = Plot.plot({
    width: W + ML + MR, height: H + MT + MB,
    marginLeft: ML, marginTop: MT, marginRight: MR, marginBottom: MB,
    x: {domain: [0, 50000]},
    y: {domain: [0, 1]},
    style: {fontFamily: FONT, background: "transparent", overflow: "visible"},
    marks: [
      Plot.areaY(band, {x: d => d[0], y1: d => d[1], y2: d => d[4], fill: BLUE, fillOpacity: 0.5}),
      Plot.areaY(band, {x: d => d[0], y1: d => d[2], y2: d => d[3], fill: BLUE}),
      Plot.ruleX(spikes, {x: d => d[0], y1: d => d[1], y2: d => d[2], stroke: BLUE, strokeWidth: 1.8, strokeOpacity: 0.8}),
      Plot.frame({stroke: AXIS, strokeWidth: 1.5}),
      Plot.ruleX(xTickValues, {x: d => d, insetTop: H - TICK, stroke: AXIS, strokeWidth: 1.5}),
      Plot.ruleX(xTickValues, {x: d => d, insetBottom: H - TICK, stroke: AXIS, strokeWidth: 1.5}),
      Plot.ruleY(yTickValues, {y: d => d, insetRight: W - TICK, stroke: AXIS, strokeWidth: 1.5}),
      Plot.ruleY(yTickValues, {y: d => d, insetLeft: W - TICK, stroke: AXIS, strokeWidth: 1.5}),
      Plot.axisX({ticks: xTickValues, tickFormat: fmtX, tickSize: 0, tickPadding: 22, fontSize: 31, color: TEXT, label: null}),
      Plot.axisY({ticks: yTickValues, tickFormat: fmtY, tickSize: 0, tickPadding: 11, fontSize: 31, color: TEXT, label: null, dy: 2}),
      Plot.text([name], {text: d => d, frameAnchor: "top", dy: -13, textAnchor: "middle", lineAnchor: "bottom", fontSize: 43, fill: "#000"}),
      Plot.text([yAxisLabel], {text: d => d, frameAnchor: "left", dx: -83, rotate: -90, textAnchor: "middle", lineAnchor: "middle", fontSize: 49, fill: TEXT}),
      Plot.text([xAxisLabel], {text: d => d, frameAnchor: "bottom", dy: 105, textAnchor: "middle", lineAnchor: "bottom", fontSize: 46, fill: TEXT}),
      Plot.text([xExponentBase], {text: d => d, frameAnchor: "bottom-right", dx: -15, dy: 97, textAnchor: "end", lineAnchor: "bottom", fontSize: 25, fill: TEXT}),
      Plot.text([xExponent], {text: d => d, frameAnchor: "bottom-right", dx: -13, dy: 82, textAnchor: "start", lineAnchor: "bottom", fontSize: 19, fill: TEXT})
    ]
  });
  chart.style.left = (colLeft[col] - ML) + "px";
  chart.style.top = (rowTop[row] - MT) + "px";
  fig.appendChild(chart);
});
</script>
</body></html>
